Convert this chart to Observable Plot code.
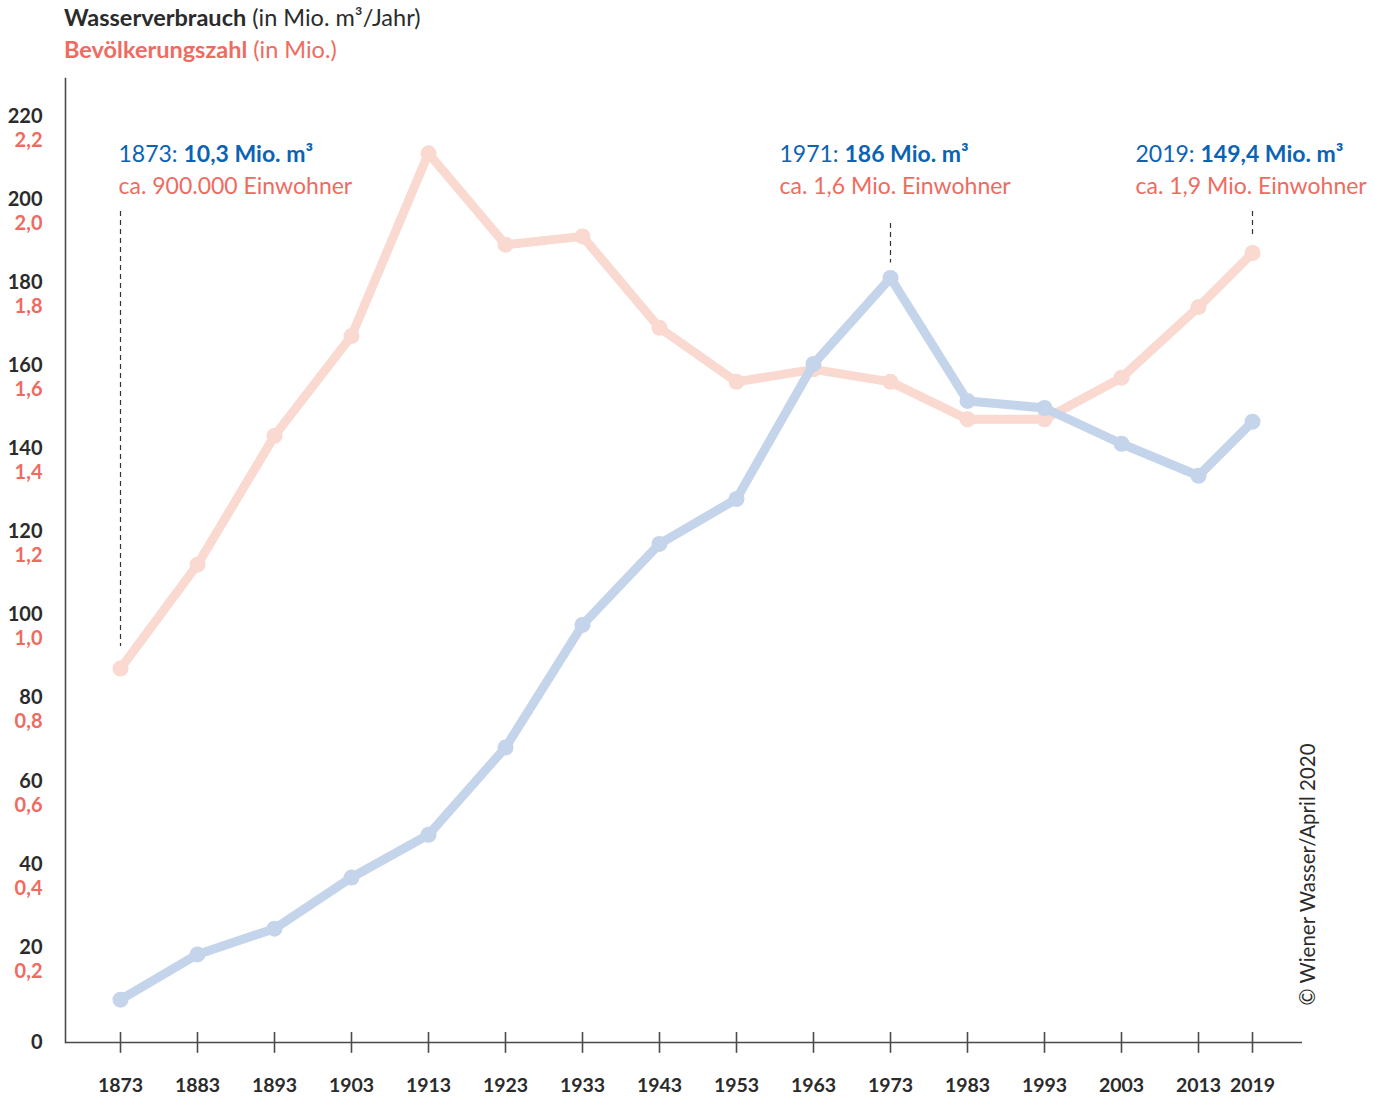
<!DOCTYPE html>
<html>
<head>
<meta charset="utf-8">
<script src="https://cdn.jsdelivr.net/npm/d3@7"></script>
<script src="https://cdn.jsdelivr.net/npm/@observablehq/plot@0.6"></script>
<style>
  html, body { margin: 0; padding: 0; background: #fff; }
  body { width: 1374px; height: 1096px; overflow: hidden; font-family: Lato, "Noto Sans", sans-serif; }
  #title { height: 66px; padding-left: 64px; box-sizing: border-box; padding-top: 1px; font-size: 23.5px; line-height: 32px; }
  #title .l1 { color: #2b2b2b; }
  #title .l2 { color: #ef6b61; }
  #title b { font-weight: 700; }
  #chart svg { display: block; }
</style>
</head>
<body>
<div id="title">
  <div class="l1"><b>Wasserverbrauch</b> (in Mio. m³/Jahr)</div>
  <div class="l2"><b>Bevölkerungszahl</b> (in Mio.)</div>
</div>
<div id="chart"></div>
<script>
// ---- data ----
const years = [1873, 1883, 1893, 1903, 1913, 1923, 1933, 1943, 1953, 1963, 1973, 1983, 1993, 2003, 2013, 2019];
const water = [10.3, 21.2, 27.4, 39.7, 50.0, 71.0, 100.5, 120.0, 130.8, 163.3, 184.0, 154.4, 152.7, 144.1, 136.4, 149.4];
const population = [0.90, 1.15, 1.46, 1.70, 2.14, 1.92, 1.94, 1.72, 1.59, 1.62, 1.59, 1.50, 1.50, 1.60, 1.77, 1.90];
const waterTicks = [0, 20, 40, 60, 80, 100, 120, 140, 160, 180, 200, 220];
const popTicks = [0.2, 0.4, 0.6, 0.8, 1.0, 1.2, 1.4, 1.6, 1.8, 2.0, 2.2];
const annoAt = [1873, 1973, 2019];          // x position on the axis
const annoYear = ["1873", "1971", "2019"];
const annoWater = ["10,3 Mio. m³", "186 Mio. m³", "149,4 Mio. m³"];
const annoPop = ["ca. 900.000 Einwohner", "ca. 1,6 Mio. Einwohner", "ca. 1,9 Mio. Einwohner"];
const copyright = "© Wiener Wasser/April 2020";

// ---- derived tables ----
const rows = years.map((y, i) => ({year: y, water: water[i], pop: population[i] * 100}));
const annos = annoAt.map((x, i) => ({
  x,
  top: Math.max(water[years.indexOf(x)], population[years.indexOf(x)] * 100),
  line1: annoYear[i] + ": " + annoWater[i],
  line2: annoPop[i]
}));
// styling offsets per annotation (pixels)
const annoDx = [-2, -111, -117];
const annoInsetTop = [0, 12, 0];
const annoInsetBottom = [22, 15, 15];

const BLUE_LINE = "#c4d4eb";
const RED_LINE = "#f9d9d0";
const BLUE_TXT = "#0b63b3";
const RED_TXT = "#ef6b61";
const INK = "#2b2b2b";
const AXIS = "#4a4a4a";
const fmtPop = d => d.toFixed(1).replace(".", ",");

const annoMarks = annos.flatMap((a, i) => [
  Plot.ruleX([a], {x: "x", y1: 200, y2: "top", stroke: "#333", strokeWidth: 1.2, strokeDasharray: "5,4", insetTop: annoInsetTop[i], insetBottom: annoInsetBottom[i]}),
  Plot.text([a], {x: "x", text: "line1", frameAnchor: "top", dy: 83, dx: annoDx[i], lineAnchor: "bottom", textAnchor: "start", fill: BLUE_TXT, fontSize: 23, className: "anno-water"}),
  Plot.text([a], {x: "x", text: "line2", frameAnchor: "top", dy: 115, dx: annoDx[i], lineAnchor: "bottom", textAnchor: "start", fill: RED_TXT, fontSize: 23})
]);

const chart = Plot.plot({
  width: 1374,
  height: 1030,
  marginLeft: 65,
  marginRight: 72,
  marginTop: 12,
  marginBottom: 54,
  style: {fontFamily: "Lato, 'Noto Sans', sans-serif", fontSize: "19px", color: INK, background: "white", overflow: "visible"},
  x: {type: "linear", domain: [1873, 2013, 2019], range: [120, 1198, 1252]},
  y: {domain: [0, 232], axis: null},
  marks: [
    Plot.frame({anchor: "left", stroke: AXIS, strokeWidth: 1.6}),
    Plot.ruleY([0], {stroke: AXIS, strokeWidth: 1.6}),
    Plot.ruleX(years, {x: d => d, y1: -2.6, y2: 2.4, stroke: AXIS, strokeWidth: 1.6}),
    Plot.axisX({ticks: years, tickSize: 0, tickPadding: 36, tickFormat: d => String(d), fontWeight: "bold", fontSize: 19.5, color: INK}),
    // y labels: water (black) above, population (red) below each gridline
    Plot.text(waterTicks.filter(d => d > 0), {y: d => d, frameAnchor: "left", textAnchor: "end", dx: -23, dy: -12, fontWeight: "bold", fill: INK, fontSize: 20}),
    Plot.text(waterTicks.filter(d => d === 0), {y: d => d, frameAnchor: "left", textAnchor: "end", dx: -23, dy: 0, fontWeight: "bold", fill: INK, fontSize: 20}),
    Plot.text(popTicks, {y: d => d * 100, text: d => fmtPop(d), frameAnchor: "left", textAnchor: "end", dx: -23, dy: 12, fontWeight: "bold", fill: RED_TXT, fontSize: 20}),
    // series
    Plot.line(rows, {x: "year", y: "pop", stroke: RED_LINE, strokeWidth: 9, strokeLinejoin: "round", strokeLinecap: "round"}),
    Plot.dot(rows, {x: "year", y: "pop", r: 8, fill: RED_LINE}),
    Plot.line(rows, {x: "year", y: "water", stroke: BLUE_LINE, strokeWidth: 9, strokeLinejoin: "round", strokeLinecap: "round"}),
    Plot.dot(rows, {x: "year", y: "water", r: 8, fill: BLUE_LINE}),
    ...annoMarks,
    Plot.text([copyright], {frameAnchor: "bottom-right", rotate: -90, textAnchor: "start", lineAnchor: "middle", dx: 6, dy: -37, fill: INK, fontSize: 20.5})
  ]
});

// bold value part of the blue annotation lines
chart.querySelectorAll(".anno-water text").forEach(t => {
  const s = t.textContent;
  const k = s.indexOf(": ");
  if (k < 0) return;
  t.textContent = "";
  const a = document.createElementNS("http://www.w3.org/2000/svg", "tspan");
  a.textContent = s.slice(0, k + 2);
  const b = document.createElementNS("http://www.w3.org/2000/svg", "tspan");
  b.textContent = s.slice(k + 2);
  b.setAttribute("font-weight", "bold");
  t.appendChild(a);
  t.appendChild(b);
});

document.getElementById("chart").appendChild(chart);
</script>
</body>
</html>
